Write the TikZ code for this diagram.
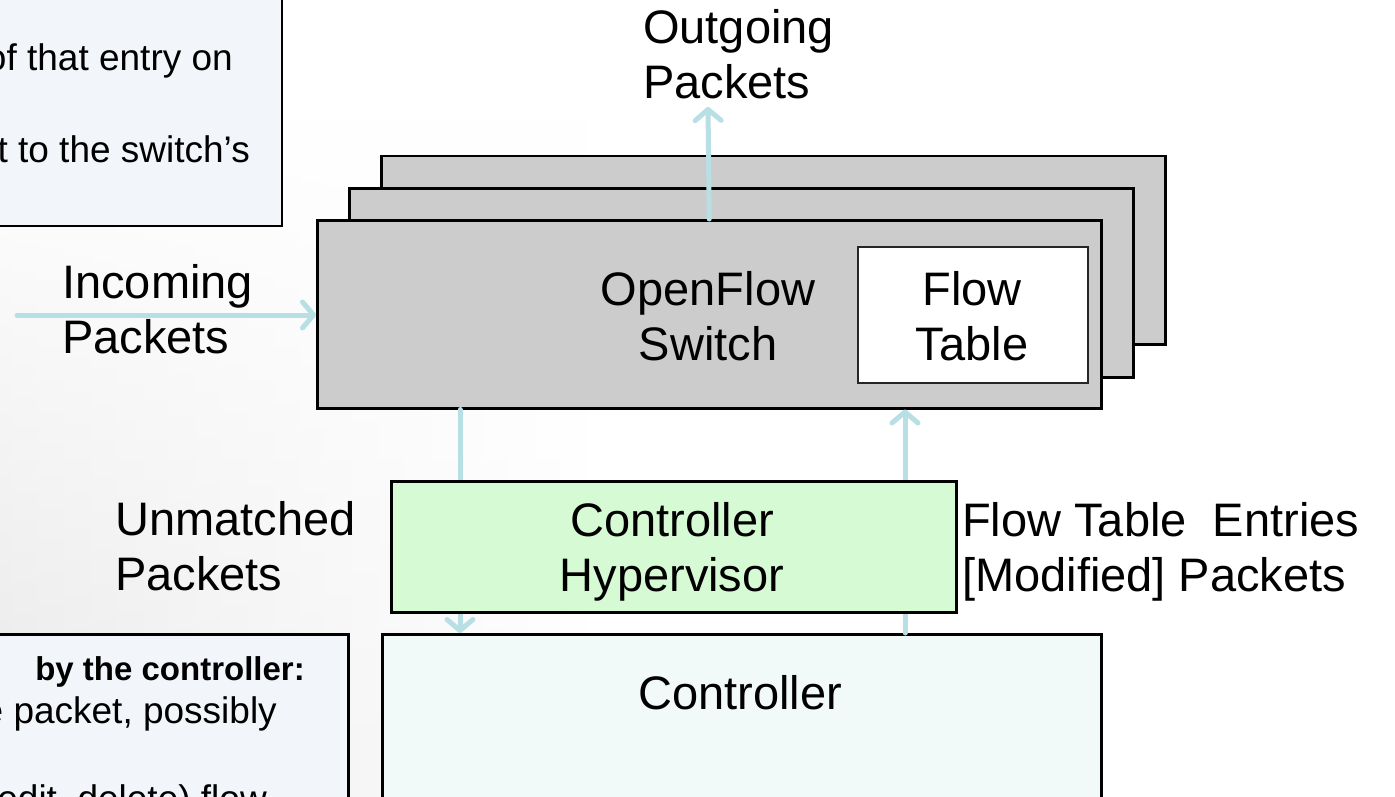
\documentclass[tikz,border=0pt]{standalone}
\usepackage{fontspec}
\setmainfont{Liberation Sans}
\usetikzlibrary{arrows.meta,fadings}
\definecolor{swgray}{RGB}{204,204,204}
\definecolor{arrowc}{RGB}{184,223,228}
\definecolor{hypgreen}{RGB}{214,250,212}
\definecolor{ctrlfill}{RGB}{241,249,249}
\definecolor{notefill}{RGB}{242,246,250}
\tikzset{
  swbox/.style={draw=black, line width=2.5pt, fill=swgray, inner sep=0pt, anchor=north west},
  plainbox/.style={draw=black, line width=2.5pt, inner sep=0pt, anchor=north west},
  arr/.style={draw=arrowc, line width=5pt, line cap=round, -{Straight Barb[length=11pt,width=26pt,round]}},
  lbl/.style={font=\fontsize{47}{55}\selectfont, align=left, inner sep=0pt},
  clbl/.style={font=\fontsize{47}{55}\selectfont, align=center, inner sep=0pt},
  note/.style={font=\fontsize{37}{44}\selectfont, inner sep=0pt, anchor=base east},
}
\begin{document}
\begin{tikzpicture}[x=1pt,y=-1pt]
\useasboundingbox (0,0) rectangle (1395,797);
\clip (0,0) rectangle (1395,797);
\fill[white] (0,0) rectangle (1395,797);
\shade[left color=black!9, right color=white, path fading=north] (0,120) rectangle (600,797);

% note boxes (cropped)
\node[plainbox, fill=notefill, minimum width=700pt, minimum height=327pt, anchor=south east] (notetop) at (283,227) {};
\node[note] (n1) at (233,71) {of that entry on};
\node[note] (n2) at (250,163) {t to the switch’s};

\node[plainbox, fill=notefill, minimum width=700pt, minimum height=300pt] (notebot) at (-353,633) {};
\node[note, font=\fontsize{33}{40}\selectfont\bfseries] (n3) at (305,680) {by the controller:};
\node[note] (n4) at (277,723) {e packet, possibly};
\node[note] (n5) at (267,811) {edit, delete) flow};

% switch stack
\node[swbox, minimum width=784pt, minimum height=188pt] (back) at (380,155) {};
\node[swbox, minimum width=784pt, minimum height=189pt] (mid) at (348,187) {};
\node[swbox, minimum width=784pt, minimum height=188pt] (front) at (316,219) {};
\node[draw=black!85, line width=2pt, fill=white, inner sep=0pt, anchor=north west, minimum width=230pt, minimum height=136pt] (ftab) at (857,246) {};
\node[clbl, anchor=base] (swlbl) at (708,360) {OpenFlow\\Switch};
\node[clbl, anchor=base] (ftlbl) at (972,360) {Flow\\Table};

% controller
\node[plainbox, fill=ctrlfill, minimum width=719pt, minimum height=300pt] (ctrl) at (381,633) {};
\node[clbl, anchor=base] (ctrllbl) at (740,709) {Controller};

% arrows
\coordinate (outtip) at (708,107);
\coordinate (instart) at (17,315);
\coordinate (downx) at (460,0);
\coordinate (upx) at (905,0);
\draw[arr] (front.north) -- (outtip);
\draw[arr] (instart) -- (instart -| front.west);
\draw[arr] (downx |- front.south) -- (downx |- ctrl.north);
\draw[arr] (upx |- ctrl.north) -- (upx |- front.south);

% hypervisor
\node[plainbox, fill=hypgreen, minimum width=565pt, minimum height=131pt] (hyp) at (390,480) {};
\node[clbl, anchor=base] (hyplbl) at (672,591) {Controller\\Hypervisor};

% labels
\node[lbl, anchor=base west] (outlbl) at (643,99) {Outgoing\\Packets};
\node[lbl, anchor=base west] (inlbl) at (62,353) {Incoming\\Packets};
\node[lbl, anchor=base west] (unlbl) at (115,590) {Unmatched\\Packets};
\node[lbl, anchor=base west] (ftelbl) at (962,591) {Flow Table~ Entries\\{[Modified]} Packets};
\end{tikzpicture}
\end{document}
